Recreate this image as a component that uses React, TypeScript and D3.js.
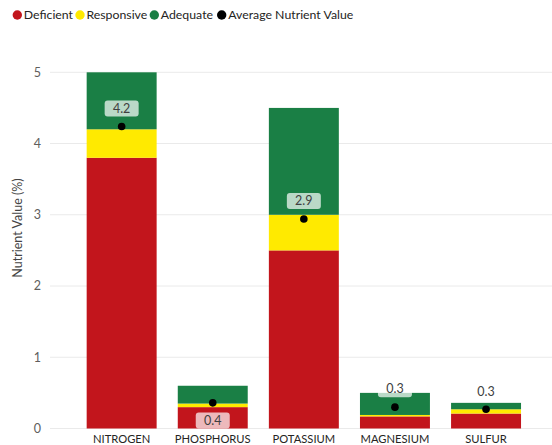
import React from "react";
import * as d3 from "d3";

const categories = ["NITROGEN", "PHOSPHORUS", "POTASSIUM", "MAGNESIUM", "SULFUR"];
const deficient = [3.8, 0.3, 2.5, 0.17, 0.21];
const responsive = [0.4, 0.05, 0.5, 0.02, 0.06];
const adequate = [0.8, 0.25, 1.5, 0.31, 0.09];
const averageValue = [4.24, 0.36, 2.94, 0.3, 0.27];
const labelSide = ["above", "below", "above", "above", "above"];
const yTicks = [0, 1, 2, 3, 4, 5];
const seriesNames = ["Deficient", "Responsive", "Adequate"];
const seriesColors = ["#C2151C", "#FFEA00", "#1A7F45"];

const W = 552;
const H = 445;
const FONT = "'Segoe UI', Lato, 'Noto Sans', sans-serif";

export default function App() {
  const x = d3
    .scaleBand<string>()
    .domain(categories)
    .range([76.1, 531.6])
    .paddingInner(0.232)
    .paddingOuter(0.116);
  const y = d3.scaleLinear().domain([0, 5]).range([428.5, 72.3]);

  const rows = categories.map((c, i) => ({
    cat: c,
    Deficient: deficient[i],
    Responsive: responsive[i],
    Adequate: adequate[i],
  }));
  const stack = d3.stack<any>().keys(seriesNames)(rows);

  const legendItems = [
    { name: "Deficient", color: seriesColors[0], x: 17.3 },
    { name: "Responsive", color: seriesColors[1], x: 80 },
    { name: "Adequate", color: seriesColors[2], x: 154.3 },
    { name: "Average Nutrient Value", color: "#000000", x: 221.7 },
  ];

  return (
    <svg
      width={W}
      height={H}
      style={{ position: "absolute", left: 0, top: 0, background: "#fff" }}
      fontFamily={FONT}
    >
      {/* legend */}
      {legendItems.map((d) => (
        <g key={d.name}>
          <circle cx={d.x} cy={15} r={4.7} fill={d.color} />
          <text x={d.x + 6.5} y={19.3} fontSize={12.3} fill="#252423">
            {d.name}
          </text>
        </g>
      ))}

      {/* gridlines */}
      {yTicks.map((t) => (
        <g key={t}>
          <line x1={50} x2={552} y1={y(t)} y2={y(t)} stroke="#EAEAEA" strokeWidth={1} />
          <text x={41} y={y(t) + 4.3} fontSize={12.5} fill="#605E5C" textAnchor="end">
            {t}
          </text>
        </g>
      ))}

      {/* y axis title */}
      <text
        transform={`translate(22,228) rotate(-90)`}
        fontSize={12.5}
        fill="#444"
        textAnchor="middle"
      >
        Nutrient Value (%)
      </text>

      {/* bars */}
      {stack.map((s, si) => (
        <g key={s.key} fill={seriesColors[si]}>
          {s.map((d, i) => (
            <rect
              key={i}
              x={x(categories[i])}
              width={x.bandwidth()}
              y={y(d[1])}
              height={y(d[0]) - y(d[1])}
            />
          ))}
        </g>
      ))}

      {/* x labels */}
      {categories.map((c) => (
        <text
          key={c}
          x={(x(c) as number) + x.bandwidth() / 2}
          y={443.3}
          fontSize={11.2}
          fill="#252423"
          textAnchor="middle"
        >
          {c}
        </text>
      ))}

      {/* average dots and labels */}
      {categories.map((c, i) => {
        const cx = (x(c) as number) + x.bandwidth() / 2;
        const cy = y(averageValue[i]);
        const above = labelSide[i] === "above";
        const boxTop = above ? cy - 26 : cy + 9.6;
        return (
          <g key={c}>
            <circle cx={cx} cy={cy} r={3.8} fill="#000" />
            <rect
              x={cx - 17}
              y={boxTop}
              width={34}
              height={16}
              rx={3}
              fill="#fff"
              fillOpacity={0.7}
            />
            <text
              x={cx}
              y={boxTop + 12.3}
              fontSize={12.5}
              fill="#404040"
              textAnchor="middle"
            >
              {averageValue[i].toFixed(1)}
            </text>
          </g>
        );
      })}
    </svg>
  );
}
